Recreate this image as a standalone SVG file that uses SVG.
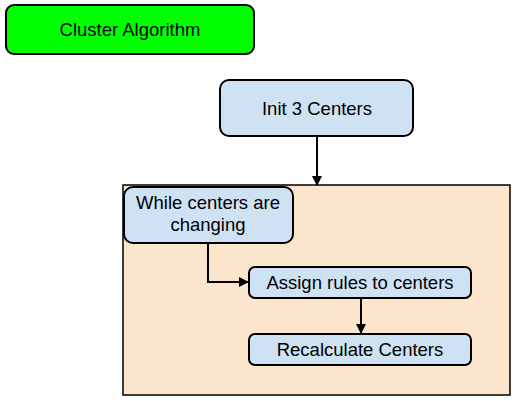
<svg xmlns="http://www.w3.org/2000/svg" width="517" height="401" viewBox="0 0 517 401">
<style>
.n{stroke:#000;stroke-width:2}
.b{fill:#cfe2f3}
.t{font-family:"Liberation Sans",Arial,sans-serif;font-size:18.5px;fill:#000;text-anchor:middle}
.c{fill:none;stroke:#000;stroke-width:2}
</style>
<defs>
<marker id="ah" markerWidth="10" markerHeight="10" refX="9" refY="5" orient="auto" markerUnits="userSpaceOnUse">
<path d="M0,0 L10,5 L0,10 Z" fill="#000"/>
</marker>
</defs>
<rect width="517" height="401" fill="#fff"/>
<g id="cluster-algorithm">
<rect class="n" x="6" y="5" width="248" height="49" rx="8" fill="#00ff00"/>
<text class="t" x="130" y="36">Cluster Algorithm</text>
</g>
<g id="loop-container">
<rect x="123" y="185" width="387" height="210" fill="#fce5cd" stroke="#000" stroke-width="1.5"/>
</g>
<g id="init-centers">
<rect class="n b" x="220" y="80" width="193" height="56" rx="9"/>
<text class="t" x="317" y="115">Init 3 Centers</text>
</g>
<g id="while-changing">
<rect class="n b" x="124" y="187" width="169" height="56" rx="9"/>
<text class="t" x="208" y="209">While centers are</text>
<text class="t" x="208" y="231">changing</text>
</g>
<g id="assign-rules">
<rect class="n b" x="249" y="267" width="222" height="31" rx="6"/>
<text class="t" x="360" y="289">Assign rules to centers</text>
</g>
<g id="recalculate">
<rect class="n b" x="249" y="334" width="222" height="31" rx="6"/>
<text class="t" x="360" y="356">Recalculate Centers</text>
</g>
<g id="connectors">
<path class="c" d="M317,136 L317,185" marker-end="url(#ah)"/>
<path class="c" d="M208,243 L208,282 L248,282" marker-end="url(#ah)"/>
<path class="c" d="M361,298 L361,333" marker-end="url(#ah)"/>
</g>
</svg>
